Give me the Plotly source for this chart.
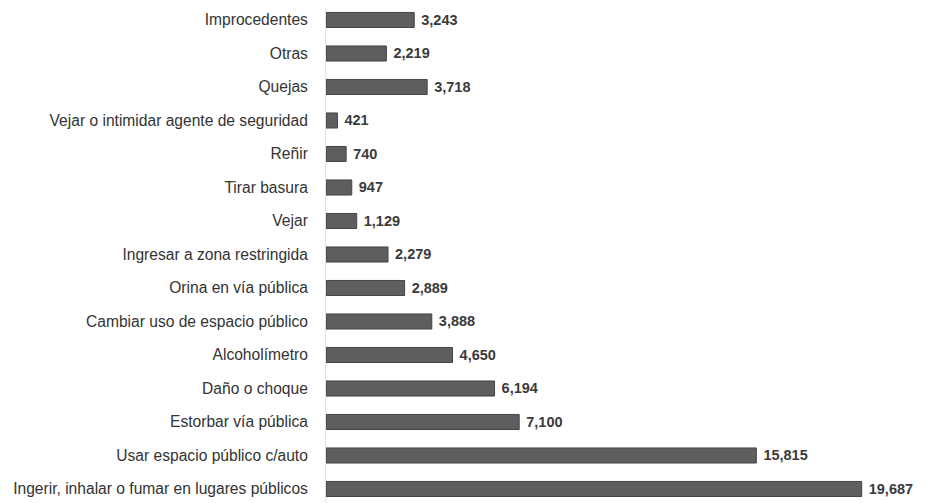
import plotly.graph_objects as go

categories = [
    "Improcedentes",
    "Otras",
    "Quejas",
    "Vejar o intimidar agente de seguridad",
    "Reñir",
    "Tirar basura",
    "Vejar",
    "Ingresar a zona restringida",
    "Orina en vía pública",
    "Cambiar uso de espacio público",
    "Alcoholímetro",
    "Daño o choque",
    "Estorbar vía pública",
    "Usar espacio público c/auto",
    "Ingerir, inhalar o fumar en lugares públicos",
]
values = [3243, 2219, 3718, 421, 740, 947, 1129, 2279, 2889, 3888, 4650, 6194, 7100, 15815, 19687]

fig = go.Figure(
    go.Bar(
        x=values,
        y=categories,
        orientation="h",
        marker=dict(color="#5e5e5e", line=dict(color="#444444", width=1)),
        text=[f"{v:,}" for v in values],
        texttemplate=" %{text}",
        textposition="outside",
        constraintext="none",
        textfont=dict(family="Liberation Sans, Arial, sans-serif", size=14.5, color="#3a3a3a", weight="bold"),
        cliponaxis=False,
        width=0.45,
    )
)

fig.update_layout(
    width=919,
    height=495,
    margin=dict(l=318, r=12, t=0, b=0, autoexpand=False),
    paper_bgcolor="white",
    plot_bgcolor="white",
    showlegend=False,
    font=dict(family="Liberation Sans, Arial, sans-serif", size=15, color="#333333"),
)
fig.update_xaxes(range=[0, 21646], visible=False, showgrid=False, zeroline=False)
fig.update_yaxes(
    type="category",
    categoryorder="array",
    categoryarray=categories,
    range=[14.418, -0.358],
    showgrid=False,
    zeroline=False,
    showline=True,
    linecolor="#e2e2e2",
    linewidth=1,
    ticks="",
    ticklabelstandoff=14,
    tickfont=dict(family="Liberation Sans, Arial, sans-serif", size=15.6, color="#333333"),
)

fig.write_html("out.html")
